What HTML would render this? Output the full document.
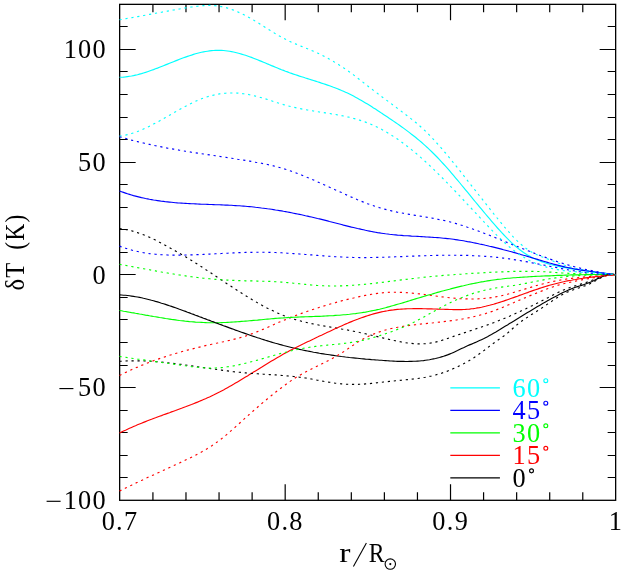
<!DOCTYPE html>
<html><head><meta charset="utf-8"><title>plot</title>
<style>
html,body{margin:0;padding:0;background:#fff;}
svg{display:block;will-change:transform;opacity:0.9999;}
.t{font-family:"Liberation Serif",serif;font-size:26.3px;letter-spacing:1.3px;}
</style></head>
<body>
<svg width="621" height="571" viewBox="0 0 621 571">
<rect width="621" height="571" fill="#fff"/>
<rect x="119.65" y="4.35" width="496.0" height="495.95" fill="none" stroke="#000" stroke-width="1.3"/>
<path d="M152.92 500.3 v-8 M152.92 4.35 v8 M185.98 500.3 v-8 M185.98 4.35 v8 M219.05 500.3 v-8 M219.05 4.35 v8 M252.12 500.3 v-8 M252.12 4.35 v8 M285.18 500.3 v-16 M285.18 4.35 v16 M318.25 500.3 v-8 M318.25 4.35 v8 M351.32 500.3 v-8 M351.32 4.35 v8 M384.38 500.3 v-8 M384.38 4.35 v8 M417.45 500.3 v-8 M417.45 4.35 v8 M450.52 500.3 v-16 M450.52 4.35 v16 M483.58 500.3 v-8 M483.58 4.35 v8 M516.65 500.3 v-8 M516.65 4.35 v8 M549.72 500.3 v-8 M549.72 4.35 v8 M582.78 500.3 v-8 M582.78 4.35 v8 M119.65 477.50 h8 M615.65 477.50 h-8 M119.65 455.50 h8 M615.65 455.50 h-8 M119.65 432.50 h8 M615.65 432.50 h-8 M119.65 410.50 h8 M615.65 410.50 h-8 M119.65 387.50 h16 M615.65 387.50 h-16 M119.65 365.50 h8 M615.65 365.50 h-8 M119.65 342.50 h8 M615.65 342.50 h-8 M119.65 319.50 h8 M615.65 319.50 h-8 M119.65 297.50 h8 M615.65 297.50 h-8 M119.65 274.50 h16 M615.65 274.50 h-16 M119.65 252.50 h8 M615.65 252.50 h-8 M119.65 229.50 h8 M615.65 229.50 h-8 M119.65 207.50 h8 M615.65 207.50 h-8 M119.65 184.50 h8 M615.65 184.50 h-8 M119.65 162.50 h16 M615.65 162.50 h-16 M119.65 139.50 h8 M615.65 139.50 h-8 M119.65 117.50 h8 M615.65 117.50 h-8 M119.65 94.50 h8 M615.65 94.50 h-8 M119.65 71.50 h8 M615.65 71.50 h-8 M119.65 49.50 h16 M615.65 49.50 h-16 M119.65 26.50 h8 M615.65 26.50 h-8" fill="none" stroke="#000" stroke-width="1.2"/>
<text x="107" y="58.34" text-anchor="end" class="t">100</text>
<text x="107" y="171.05" text-anchor="end" class="t">50</text>
<text x="107" y="283.77" text-anchor="end" class="t">0</text>
<text x="107" y="396.48" text-anchor="end" class="t">50</text>
<path d="M59.4 388.58 h14" stroke="#000" stroke-width="1.15" fill="none"/>
<text x="107" y="509.20" text-anchor="end" class="t">100</text>
<path d="M46.6 501.30 h14" stroke="#000" stroke-width="1.15" fill="none"/>
<text x="120.05" y="530" text-anchor="middle" class="t">0.7</text>
<text x="285.38" y="530" text-anchor="middle" class="t">0.8</text>
<text x="450.72" y="530" text-anchor="middle" class="t">0.9</text>
<text x="616.05" y="530" text-anchor="middle" class="t">1</text>
<text transform="translate(23.5 290.6) rotate(-90) scale(0.935 1)" class="t">δT</text><text transform="translate(23.5 249.8) rotate(-90) scale(0.9 1)" class="t">(K)</text>
<text transform="translate(339.3 562.2) scale(1.28 1)" class="t">r</text><path d="M353.4 566.6 L366.4 543" stroke="#000" stroke-width="1.1" fill="none"/><text transform="translate(368.8 562.2) scale(0.9 1)" class="t">R</text><circle cx="390.3" cy="564.1" r="5.2" fill="none" stroke="#000" stroke-width="1.1"/><circle cx="390.3" cy="564.1" r="1.1" fill="#000"/>
<path d="M450.32 387.78 H499.92" stroke="#00ffff" stroke-width="1.2" fill="none"/>
<text x="512.6" y="396.68" class="t" fill="#00ffff">60</text>
<circle cx="545.80" cy="380.68" r="1.95" fill="none" stroke="#00ffff" stroke-width="1.15"/>
<path d="M450.32 410.33 H499.92" stroke="#0000ff" stroke-width="1.2" fill="none"/>
<text x="512.6" y="419.23" class="t" fill="#0000ff">45</text>
<circle cx="545.80" cy="403.23" r="1.95" fill="none" stroke="#0000ff" stroke-width="1.15"/>
<path d="M450.32 432.87 H499.92" stroke="#00ff00" stroke-width="1.2" fill="none"/>
<text x="512.6" y="441.77" class="t" fill="#00ff00">30</text>
<circle cx="545.80" cy="425.77" r="1.95" fill="none" stroke="#00ff00" stroke-width="1.15"/>
<path d="M450.32 455.41 H499.92" stroke="#ff0000" stroke-width="1.2" fill="none"/>
<text x="512.6" y="464.31" class="t" fill="#ff0000">15</text>
<circle cx="545.80" cy="448.31" r="1.95" fill="none" stroke="#ff0000" stroke-width="1.15"/>
<path d="M450.32 477.96 H499.92" stroke="#000000" stroke-width="1.2" fill="none"/>
<text x="512.6" y="486.86" class="t" fill="#000000">0</text>
<circle cx="531.50" cy="470.86" r="1.95" fill="none" stroke="#000000" stroke-width="1.15"/>
<path d="M119.5 228.6 L121.5 228.8 L123.5 229.1 L125.5 229.5 L127.5 229.9 L129.5 230.3 L131.5 230.8 L133.5 231.4 L135.5 232.0 L137.5 232.6 L139.5 233.3 L141.5 234.0 L143.5 234.8 L145.5 235.6 L147.5 236.4 L149.5 237.3 L151.5 238.2 L153.5 239.2 L155.5 240.1 L157.5 241.1 L159.5 242.2 L161.5 243.2 L163.5 244.3 L165.5 245.4 L167.5 246.5 L169.5 247.6 L171.5 248.7 L173.5 249.9 L175.5 251.0 L177.5 252.2 L179.5 253.3 L181.5 254.4 L183.5 255.6 L185.5 256.8 L187.5 258.0 L189.5 259.2 L191.5 260.4 L193.5 261.7 L195.5 262.9 L197.5 264.2 L199.5 265.5 L201.5 266.8 L203.5 268.1 L205.5 269.4 L207.5 270.7 L209.5 272.0 L211.5 273.3 L213.5 274.7 L215.5 276.0 L217.5 277.3 L219.5 278.7 L221.5 280.0 L223.5 281.3 L225.5 282.7 L227.5 284.0 L229.5 285.3 L231.5 286.6 L233.5 287.9 L235.5 289.2 L237.5 290.5 L239.5 291.8 L241.5 293.1 L243.5 294.4 L245.5 295.6 L247.5 296.8 L249.5 298.1 L251.5 299.3 L253.5 300.5 L255.5 301.6 L257.5 302.8 L259.5 303.9 L261.5 305.0 L263.5 306.1 L265.5 307.1 L267.5 308.2 L269.5 309.2 L271.5 310.2 L273.5 311.1 L275.5 312.1 L277.5 313.0 L279.5 313.8 L281.5 314.7 L283.5 315.5 L285.5 316.2 L287.5 317.0 L289.5 317.7 L291.5 318.3 L293.5 319.0 L295.5 319.6 L297.5 320.2 L299.5 320.7 L301.5 321.3 L303.5 321.8 L305.5 322.2 L307.5 322.7 L309.5 323.2 L311.5 323.6 L313.5 324.0 L315.5 324.4 L317.5 324.8 L319.5 325.2 L321.5 325.5 L323.5 325.9 L325.5 326.3 L327.5 326.6 L329.5 326.9 L331.5 327.3 L333.5 327.6 L335.5 327.9 L337.5 328.3 L339.5 328.6 L341.5 329.0 L343.5 329.3 L345.5 329.7 L347.5 330.0 L349.5 330.4 L351.5 330.8 L353.5 331.2 L355.5 331.6 L357.5 332.0 L359.5 332.5 L361.5 332.9 L363.5 333.4 L365.5 333.8 L367.5 334.3 L369.5 334.7 L371.5 335.2 L373.5 335.7 L375.5 336.2 L377.5 336.6 L379.5 337.1 L381.5 337.6 L383.5 338.1 L385.5 338.6 L387.5 339.0 L389.5 339.5 L391.5 340.0 L393.5 340.4 L395.5 340.8 L397.5 341.2 L399.5 341.6 L401.5 342.0 L403.5 342.4 L405.5 342.7 L407.5 343.0 L409.5 343.2 L411.5 343.4 L413.5 343.6 L415.5 343.7 L417.5 343.8 L419.5 343.9 L421.5 343.8 L423.5 343.8 L425.5 343.7 L427.5 343.5 L429.5 343.2 L431.5 342.9 L433.5 342.6 L435.5 342.1 L437.5 341.6 L439.5 341.1 L441.5 340.5 L443.5 339.8 L445.5 339.2 L447.5 338.5 L449.5 337.8 L451.5 337.1 L453.5 336.4 L455.5 335.7 L457.5 335.0 L459.5 334.4 L461.5 333.7 L463.5 333.0 L465.5 332.4 L467.5 331.7 L469.5 331.0 L471.5 330.4 L473.5 329.7 L475.5 329.0 L477.5 328.3 L479.5 327.7 L481.5 327.0 L483.5 326.3 L485.5 325.6 L487.5 324.9 L489.5 324.1 L491.5 323.4 L493.5 322.7 L495.5 321.9 L497.5 321.1 L499.5 320.3 L501.5 319.5 L503.5 318.7 L505.5 317.9 L507.5 317.0 L509.5 316.2 L511.5 315.3 L513.5 314.4 L515.5 313.5 L517.5 312.6 L519.5 311.7 L521.5 310.8 L523.5 309.8 L525.5 308.9 L527.5 307.9 L529.5 306.9 L531.5 306.0 L533.5 305.0 L535.5 304.0 L537.5 303.0 L539.5 302.0 L541.5 301.0 L543.5 299.9 L545.5 298.9 L547.5 297.9 L549.5 296.9 L551.5 295.8 L553.5 294.8 L555.5 293.8 L557.5 292.8 L559.5 291.8 L561.5 290.9 L563.5 290.0 L565.5 289.2 L567.5 288.4 L569.5 287.7 L571.5 287.0 L573.5 286.4 L575.5 285.7 L577.5 285.1 L579.5 284.5 L581.5 283.9 L583.5 283.3 L585.5 282.7 L587.5 282.0 L589.5 281.3 L591.5 280.5 L593.5 279.7 L595.5 278.9 L597.5 278.1 L599.5 277.3 L601.5 276.5 L603.5 275.8 L605.5 275.3 L607.5 274.8 L609.5 274.5 L611.5 274.3 L613.5 274.4 L615.6 274.7" fill="none" stroke="#000000" stroke-width="1.15" stroke-dasharray="2.2 3.8"/>
<path d="M119.5 375.5 L121.5 374.5 L123.5 373.5 L125.5 372.5 L127.5 371.6 L129.5 370.6 L131.5 369.7 L133.5 368.8 L135.5 367.9 L137.5 367.1 L139.5 366.2 L141.5 365.4 L143.5 364.6 L145.5 363.8 L147.5 363.0 L149.5 362.2 L151.5 361.5 L153.5 360.7 L155.5 360.0 L157.5 359.3 L159.5 358.6 L161.5 357.9 L163.5 357.3 L165.5 356.6 L167.5 356.0 L169.5 355.3 L171.5 354.7 L173.5 354.1 L175.5 353.5 L177.5 352.9 L179.5 352.3 L181.5 351.8 L183.5 351.2 L185.5 350.7 L187.5 350.1 L189.5 349.6 L191.5 349.1 L193.5 348.6 L195.5 348.1 L197.5 347.6 L199.5 347.1 L201.5 346.6 L203.5 346.1 L205.5 345.6 L207.5 345.2 L209.5 344.7 L211.5 344.3 L213.5 343.8 L215.5 343.4 L217.5 343.0 L219.5 342.5 L221.5 342.1 L223.5 341.7 L225.5 341.2 L227.5 340.8 L229.5 340.4 L231.5 339.9 L233.5 339.4 L235.5 338.9 L237.5 338.4 L239.5 337.9 L241.5 337.3 L243.5 336.7 L245.5 336.1 L247.5 335.4 L249.5 334.7 L251.5 333.9 L253.5 333.2 L255.5 332.4 L257.5 331.6 L259.5 330.8 L261.5 329.9 L263.5 329.1 L265.5 328.2 L267.5 327.4 L269.5 326.5 L271.5 325.6 L273.5 324.7 L275.5 323.8 L277.5 323.0 L279.5 322.1 L281.5 321.2 L283.5 320.4 L285.5 319.6 L287.5 318.7 L289.5 317.9 L291.5 317.1 L293.5 316.4 L295.5 315.6 L297.5 314.9 L299.5 314.1 L301.5 313.4 L303.5 312.7 L305.5 312.0 L307.5 311.3 L309.5 310.6 L311.5 309.9 L313.5 309.3 L315.5 308.6 L317.5 308.0 L319.5 307.3 L321.5 306.7 L323.5 306.1 L325.5 305.5 L327.5 304.9 L329.5 304.3 L331.5 303.7 L333.5 303.1 L335.5 302.6 L337.5 302.0 L339.5 301.5 L341.5 300.9 L343.5 300.4 L345.5 299.9 L347.5 299.4 L349.5 298.9 L351.5 298.4 L353.5 298.0 L355.5 297.5 L357.5 297.1 L359.5 296.6 L361.5 296.2 L363.5 295.8 L365.5 295.4 L367.5 295.0 L369.5 294.7 L371.5 294.3 L373.5 294.0 L375.5 293.7 L377.5 293.4 L379.5 293.1 L381.5 292.9 L383.5 292.7 L385.5 292.5 L387.5 292.4 L389.5 292.3 L391.5 292.2 L393.5 292.2 L395.5 292.2 L397.5 292.2 L399.5 292.3 L401.5 292.4 L403.5 292.5 L405.5 292.6 L407.5 292.7 L409.5 292.9 L411.5 293.1 L413.5 293.3 L415.5 293.5 L417.5 293.7 L419.5 293.9 L421.5 294.2 L423.5 294.4 L425.5 294.7 L427.5 295.0 L429.5 295.2 L431.5 295.5 L433.5 295.8 L435.5 296.0 L437.5 296.3 L439.5 296.5 L441.5 296.8 L443.5 297.0 L445.5 297.3 L447.5 297.5 L449.5 297.7 L451.5 297.9 L453.5 298.1 L455.5 298.3 L457.5 298.4 L459.5 298.6 L461.5 298.7 L463.5 298.8 L465.5 298.9 L467.5 298.9 L469.5 299.0 L471.5 299.0 L473.5 299.0 L475.5 298.9 L477.5 298.9 L479.5 298.8 L481.5 298.6 L483.5 298.5 L485.5 298.3 L487.5 298.1 L489.5 297.9 L491.5 297.6 L493.5 297.3 L495.5 296.9 L497.5 296.5 L499.5 296.1 L501.5 295.7 L503.5 295.2 L505.5 294.7 L507.5 294.2 L509.5 293.6 L511.5 293.1 L513.5 292.5 L515.5 291.9 L517.5 291.3 L519.5 290.7 L521.5 290.1 L523.5 289.5 L525.5 288.9 L527.5 288.3 L529.5 287.7 L531.5 287.1 L533.5 286.5 L535.5 285.9 L537.5 285.3 L539.5 284.8 L541.5 284.3 L543.5 283.8 L545.5 283.3 L547.5 282.8 L549.5 282.3 L551.5 281.9 L553.5 281.4 L555.5 281.0 L557.5 280.6 L559.5 280.2 L561.5 279.9 L563.5 279.6 L565.5 279.2 L567.5 278.9 L569.5 278.6 L571.5 278.4 L573.5 278.1 L575.5 277.9 L577.5 277.7 L579.5 277.5 L581.5 277.3 L583.5 277.1 L585.5 276.9 L587.5 276.7 L589.5 276.6 L591.5 276.4 L593.5 276.3 L595.5 276.1 L597.5 276.0 L599.5 275.8 L601.5 275.7 L603.5 275.6 L605.5 275.4 L607.5 275.3 L609.5 275.2 L611.5 275.0 L613.5 274.9 L615.6 274.7" fill="none" stroke="#ff0000" stroke-width="1.15" stroke-dasharray="2.2 3.8"/>
<path d="M119.5 264.3 L121.5 264.7 L123.5 265.0 L125.5 265.4 L127.5 265.8 L129.5 266.1 L131.5 266.5 L133.5 266.9 L135.5 267.2 L137.5 267.6 L139.5 268.0 L141.5 268.4 L143.5 268.7 L145.5 269.1 L147.5 269.5 L149.5 269.8 L151.5 270.2 L153.5 270.6 L155.5 270.9 L157.5 271.3 L159.5 271.6 L161.5 272.0 L163.5 272.3 L165.5 272.7 L167.5 273.0 L169.5 273.4 L171.5 273.7 L173.5 274.0 L175.5 274.4 L177.5 274.7 L179.5 275.0 L181.5 275.3 L183.5 275.6 L185.5 275.9 L187.5 276.2 L189.5 276.5 L191.5 276.7 L193.5 277.0 L195.5 277.3 L197.5 277.5 L199.5 277.8 L201.5 278.0 L203.5 278.2 L205.5 278.4 L207.5 278.6 L209.5 278.8 L211.5 279.0 L213.5 279.2 L215.5 279.4 L217.5 279.5 L219.5 279.7 L221.5 279.8 L223.5 279.9 L225.5 280.0 L227.5 280.1 L229.5 280.2 L231.5 280.3 L233.5 280.4 L235.5 280.5 L237.5 280.6 L239.5 280.6 L241.5 280.7 L243.5 280.7 L245.5 280.8 L247.5 280.8 L249.5 280.9 L251.5 280.9 L253.5 281.0 L255.5 281.0 L257.5 281.1 L259.5 281.1 L261.5 281.2 L263.5 281.2 L265.5 281.3 L267.5 281.3 L269.5 281.4 L271.5 281.5 L273.5 281.6 L275.5 281.7 L277.5 281.8 L279.5 281.9 L281.5 282.1 L283.5 282.2 L285.5 282.4 L287.5 282.6 L289.5 282.7 L291.5 282.9 L293.5 283.2 L295.5 283.4 L297.5 283.6 L299.5 283.8 L301.5 284.0 L303.5 284.2 L305.5 284.4 L307.5 284.7 L309.5 284.8 L311.5 285.0 L313.5 285.2 L315.5 285.4 L317.5 285.5 L319.5 285.6 L321.5 285.7 L323.5 285.8 L325.5 285.9 L327.5 285.9 L329.5 286.0 L331.5 286.0 L333.5 286.0 L335.5 286.0 L337.5 285.9 L339.5 285.9 L341.5 285.8 L343.5 285.8 L345.5 285.7 L347.5 285.6 L349.5 285.5 L351.5 285.3 L353.5 285.2 L355.5 285.1 L357.5 284.9 L359.5 284.7 L361.5 284.6 L363.5 284.4 L365.5 284.2 L367.5 284.0 L369.5 283.8 L371.5 283.6 L373.5 283.4 L375.5 283.1 L377.5 282.9 L379.5 282.7 L381.5 282.4 L383.5 282.2 L385.5 281.9 L387.5 281.7 L389.5 281.4 L391.5 281.2 L393.5 280.9 L395.5 280.7 L397.5 280.4 L399.5 280.2 L401.5 279.9 L403.5 279.7 L405.5 279.4 L407.5 279.2 L409.5 278.9 L411.5 278.7 L413.5 278.5 L415.5 278.2 L417.5 278.0 L419.5 277.8 L421.5 277.5 L423.5 277.3 L425.5 277.1 L427.5 276.9 L429.5 276.7 L431.5 276.5 L433.5 276.3 L435.5 276.1 L437.5 276.0 L439.5 275.8 L441.5 275.6 L443.5 275.4 L445.5 275.3 L447.5 275.1 L449.5 275.0 L451.5 274.8 L453.5 274.7 L455.5 274.5 L457.5 274.4 L459.5 274.2 L461.5 274.1 L463.5 273.9 L465.5 273.8 L467.5 273.7 L469.5 273.6 L471.5 273.4 L473.5 273.3 L475.5 273.2 L477.5 273.1 L479.5 273.0 L481.5 272.9 L483.5 272.8 L485.5 272.6 L487.5 272.5 L489.5 272.4 L491.5 272.3 L493.5 272.2 L495.5 272.1 L497.5 272.0 L499.5 272.0 L501.5 271.9 L503.5 271.8 L505.5 271.7 L507.5 271.6 L509.5 271.6 L511.5 271.5 L513.5 271.4 L515.5 271.4 L517.5 271.3 L519.5 271.3 L521.5 271.3 L523.5 271.3 L525.5 271.3 L527.5 271.3 L529.5 271.3 L531.5 271.3 L533.5 271.3 L535.5 271.4 L537.5 271.5 L539.5 271.5 L541.5 271.6 L543.5 271.7 L545.5 271.8 L547.5 272.0 L549.5 272.1 L551.5 272.2 L553.5 272.3 L555.5 272.5 L557.5 272.6 L559.5 272.7 L561.5 272.9 L563.5 273.0 L565.5 273.1 L567.5 273.2 L569.5 273.4 L571.5 273.5 L573.5 273.6 L575.5 273.7 L577.5 273.8 L579.5 273.9 L581.5 273.9 L583.5 274.0 L585.5 274.1 L587.5 274.1 L589.5 274.2 L591.5 274.2 L593.5 274.3 L595.5 274.3 L597.5 274.3 L599.5 274.3 L601.5 274.4 L603.5 274.4 L605.5 274.4 L607.5 274.5 L609.5 274.5 L611.5 274.6 L613.5 274.6 L615.6 274.7" fill="none" stroke="#00ff00" stroke-width="1.15" stroke-dasharray="2.2 3.8"/>
<path d="M119.5 136.7 L121.5 137.3 L123.5 137.9 L125.5 138.4 L127.5 139.0 L129.5 139.5 L131.5 140.1 L133.5 140.6 L135.5 141.1 L137.5 141.6 L139.5 142.1 L141.5 142.6 L143.5 143.0 L145.5 143.5 L147.5 144.0 L149.5 144.4 L151.5 144.8 L153.5 145.3 L155.5 145.7 L157.5 146.1 L159.5 146.5 L161.5 146.9 L163.5 147.3 L165.5 147.7 L167.5 148.1 L169.5 148.4 L171.5 148.8 L173.5 149.1 L175.5 149.5 L177.5 149.8 L179.5 150.2 L181.5 150.5 L183.5 150.9 L185.5 151.2 L187.5 151.5 L189.5 151.8 L191.5 152.2 L193.5 152.5 L195.5 152.8 L197.5 153.1 L199.5 153.4 L201.5 153.7 L203.5 154.0 L205.5 154.3 L207.5 154.6 L209.5 154.9 L211.5 155.2 L213.5 155.5 L215.5 155.8 L217.5 156.1 L219.5 156.4 L221.5 156.7 L223.5 157.0 L225.5 157.3 L227.5 157.6 L229.5 157.9 L231.5 158.2 L233.5 158.5 L235.5 158.8 L237.5 159.2 L239.5 159.5 L241.5 159.8 L243.5 160.1 L245.5 160.4 L247.5 160.8 L249.5 161.1 L251.5 161.4 L253.5 161.8 L255.5 162.2 L257.5 162.5 L259.5 162.9 L261.5 163.3 L263.5 163.7 L265.5 164.1 L267.5 164.5 L269.5 165.0 L271.5 165.5 L273.5 165.9 L275.5 166.4 L277.5 167.0 L279.5 167.5 L281.5 168.1 L283.5 168.7 L285.5 169.3 L287.5 169.9 L289.5 170.6 L291.5 171.3 L293.5 172.0 L295.5 172.7 L297.5 173.5 L299.5 174.2 L301.5 175.0 L303.5 175.8 L305.5 176.6 L307.5 177.5 L309.5 178.3 L311.5 179.2 L313.5 180.0 L315.5 180.9 L317.5 181.8 L319.5 182.7 L321.5 183.6 L323.5 184.5 L325.5 185.4 L327.5 186.3 L329.5 187.2 L331.5 188.1 L333.5 189.0 L335.5 189.9 L337.5 190.8 L339.5 191.7 L341.5 192.6 L343.5 193.5 L345.5 194.4 L347.5 195.3 L349.5 196.2 L351.5 197.1 L353.5 197.9 L355.5 198.8 L357.5 199.7 L359.5 200.5 L361.5 201.3 L363.5 202.1 L365.5 202.9 L367.5 203.7 L369.5 204.4 L371.5 205.1 L373.5 205.8 L375.5 206.5 L377.5 207.1 L379.5 207.7 L381.5 208.3 L383.5 208.9 L385.5 209.4 L387.5 209.9 L389.5 210.4 L391.5 210.9 L393.5 211.4 L395.5 211.8 L397.5 212.2 L399.5 212.6 L401.5 213.0 L403.5 213.3 L405.5 213.7 L407.5 214.1 L409.5 214.4 L411.5 214.7 L413.5 215.1 L415.5 215.4 L417.5 215.7 L419.5 216.0 L421.5 216.4 L423.5 216.7 L425.5 217.0 L427.5 217.4 L429.5 217.7 L431.5 218.0 L433.5 218.4 L435.5 218.8 L437.5 219.2 L439.5 219.6 L441.5 220.0 L443.5 220.4 L445.5 220.8 L447.5 221.3 L449.5 221.8 L451.5 222.3 L453.5 222.8 L455.5 223.4 L457.5 224.0 L459.5 224.6 L461.5 225.2 L463.5 225.8 L465.5 226.5 L467.5 227.2 L469.5 227.8 L471.5 228.5 L473.5 229.3 L475.5 230.0 L477.5 230.7 L479.5 231.5 L481.5 232.2 L483.5 233.0 L485.5 233.8 L487.5 234.6 L489.5 235.3 L491.5 236.1 L493.5 236.9 L495.5 237.7 L497.5 238.6 L499.5 239.4 L501.5 240.2 L503.5 241.0 L505.5 241.8 L507.5 242.6 L509.5 243.4 L511.5 244.2 L513.5 245.0 L515.5 245.8 L517.5 246.6 L519.5 247.4 L521.5 248.2 L523.5 249.0 L525.5 249.8 L527.5 250.6 L529.5 251.3 L531.5 252.1 L533.5 252.9 L535.5 253.7 L537.5 254.4 L539.5 255.2 L541.5 255.9 L543.5 256.7 L545.5 257.4 L547.5 258.2 L549.5 258.9 L551.5 259.6 L553.5 260.3 L555.5 261.0 L557.5 261.7 L559.5 262.4 L561.5 263.0 L563.5 263.6 L565.5 264.2 L567.5 264.8 L569.5 265.4 L571.5 266.0 L573.5 266.5 L575.5 267.0 L577.5 267.5 L579.5 268.0 L581.5 268.5 L583.5 268.9 L585.5 269.4 L587.5 269.8 L589.5 270.2 L591.5 270.6 L593.5 271.0 L595.5 271.4 L597.5 271.7 L599.5 272.1 L601.5 272.4 L603.5 272.8 L605.5 273.1 L607.5 273.4 L609.5 273.8 L611.5 274.1 L613.5 274.4 L615.6 274.7" fill="none" stroke="#0000ff" stroke-width="1.15" stroke-dasharray="2.2 3.8"/>
<path d="M119.5 19.8 L121.5 19.5 L123.5 19.1 L125.5 18.8 L127.5 18.4 L129.5 18.1 L131.5 17.7 L133.5 17.4 L135.5 17.0 L137.5 16.6 L139.5 16.3 L141.5 15.9 L143.5 15.5 L145.5 15.2 L147.5 14.8 L149.5 14.4 L151.5 14.1 L153.5 13.7 L155.5 13.3 L157.5 12.9 L159.5 12.6 L161.5 12.2 L163.5 11.8 L165.5 11.5 L167.5 11.1 L169.5 10.7 L171.5 10.4 L173.5 10.0 L175.5 9.7 L177.5 9.3 L179.5 9.0 L181.5 8.6 L183.5 8.3 L185.5 7.9 L187.5 7.6 L189.5 7.3 L191.5 7.0 L193.5 6.7 L195.5 6.4 L197.5 6.2 L199.5 6.0 L201.5 5.8 L203.5 5.6 L205.5 5.5 L207.5 5.5 L209.5 5.4 L211.5 5.5 L213.5 5.6 L215.5 5.7 L217.5 6.0 L219.5 6.2 L221.5 6.6 L223.5 7.0 L225.5 7.5 L227.5 8.1 L229.5 8.7 L231.5 9.4 L233.5 10.1 L235.5 10.9 L237.5 11.8 L239.5 12.7 L241.5 13.6 L243.5 14.6 L245.5 15.6 L247.5 16.7 L249.5 17.8 L251.5 18.9 L253.5 20.1 L255.5 21.3 L257.5 22.5 L259.5 23.7 L261.5 25.0 L263.5 26.3 L265.5 27.5 L267.5 28.8 L269.5 30.0 L271.5 31.3 L273.5 32.5 L275.5 33.7 L277.5 34.9 L279.5 36.1 L281.5 37.2 L283.5 38.3 L285.5 39.3 L287.5 40.3 L289.5 41.3 L291.5 42.2 L293.5 43.1 L295.5 43.9 L297.5 44.8 L299.5 45.6 L301.5 46.4 L303.5 47.2 L305.5 48.0 L307.5 48.8 L309.5 49.6 L311.5 50.4 L313.5 51.3 L315.5 52.2 L317.5 53.1 L319.5 54.0 L321.5 55.0 L323.5 56.0 L325.5 57.0 L327.5 58.1 L329.5 59.2 L331.5 60.3 L333.5 61.5 L335.5 62.7 L337.5 63.9 L339.5 65.2 L341.5 66.5 L343.5 67.8 L345.5 69.2 L347.5 70.6 L349.5 72.0 L351.5 73.5 L353.5 74.9 L355.5 76.5 L357.5 78.0 L359.5 79.5 L361.5 81.1 L363.5 82.6 L365.5 84.2 L367.5 85.8 L369.5 87.3 L371.5 88.9 L373.5 90.4 L375.5 91.9 L377.5 93.4 L379.5 95.0 L381.5 96.5 L383.5 98.0 L385.5 99.5 L387.5 100.9 L389.5 102.4 L391.5 103.9 L393.5 105.4 L395.5 106.9 L397.5 108.4 L399.5 109.9 L401.5 111.4 L403.5 112.9 L405.5 114.4 L407.5 116.0 L409.5 117.5 L411.5 119.1 L413.5 120.7 L415.5 122.3 L417.5 124.0 L419.5 125.7 L421.5 127.5 L423.5 129.3 L425.5 131.2 L427.5 133.2 L429.5 135.2 L431.5 137.3 L433.5 139.4 L435.5 141.6 L437.5 143.8 L439.5 146.0 L441.5 148.3 L443.5 150.7 L445.5 153.0 L447.5 155.4 L449.5 157.9 L451.5 160.3 L453.5 162.8 L455.5 165.3 L457.5 167.8 L459.5 170.3 L461.5 172.8 L463.5 175.4 L465.5 177.9 L467.5 180.5 L469.5 183.0 L471.5 185.6 L473.5 188.1 L475.5 190.7 L477.5 193.2 L479.5 195.8 L481.5 198.3 L483.5 200.9 L485.5 203.4 L487.5 205.9 L489.5 208.4 L491.5 211.0 L493.5 213.5 L495.5 216.0 L497.5 218.5 L499.5 220.9 L501.5 223.4 L503.5 225.8 L505.5 228.1 L507.5 230.5 L509.5 232.7 L511.5 234.9 L513.5 237.1 L515.5 239.1 L517.5 241.1 L519.5 243.0 L521.5 244.7 L523.5 246.4 L525.5 248.0 L527.5 249.4 L529.5 250.8 L531.5 252.0 L533.5 253.1 L535.5 254.1 L537.5 255.0 L539.5 255.8 L541.5 256.7 L543.5 257.4 L545.5 258.2 L547.5 258.9 L549.5 259.7 L551.5 260.5 L553.5 261.2 L555.5 262.0 L557.5 262.8 L559.5 263.5 L561.5 264.2 L563.5 264.9 L565.5 265.5 L567.5 266.1 L569.5 266.7 L571.5 267.2 L573.5 267.7 L575.5 268.2 L577.5 268.6 L579.5 269.1 L581.5 269.5 L583.5 269.9 L585.5 270.2 L587.5 270.6 L589.5 270.9 L591.5 271.3 L593.5 271.6 L595.5 271.9 L597.5 272.2 L599.5 272.5 L601.5 272.7 L603.5 273.0 L605.5 273.3 L607.5 273.6 L609.5 273.8 L611.5 274.1 L613.5 274.4 L615.6 274.7" fill="none" stroke="#00ffff" stroke-width="1.15" stroke-dasharray="2.2 3.8"/>
<path d="M119.5 77.3 L121.5 77.2 L123.5 77.1 L125.5 76.9 L127.5 76.6 L129.5 76.3 L131.5 76.0 L133.5 75.6 L135.5 75.1 L137.5 74.7 L139.5 74.1 L141.5 73.6 L143.5 73.0 L145.5 72.4 L147.5 71.7 L149.5 71.0 L151.5 70.3 L153.5 69.6 L155.5 68.8 L157.5 68.1 L159.5 67.3 L161.5 66.5 L163.5 65.7 L165.5 64.9 L167.5 64.1 L169.5 63.3 L171.5 62.5 L173.5 61.7 L175.5 60.9 L177.5 60.1 L179.5 59.3 L181.5 58.5 L183.5 57.8 L185.5 57.1 L187.5 56.4 L189.5 55.7 L191.5 55.1 L193.5 54.4 L195.5 53.8 L197.5 53.3 L199.5 52.8 L201.5 52.3 L203.5 51.9 L205.5 51.5 L207.5 51.2 L209.5 50.9 L211.5 50.6 L213.5 50.5 L215.5 50.4 L217.5 50.3 L219.5 50.3 L221.5 50.4 L223.5 50.5 L225.5 50.7 L227.5 51.0 L229.5 51.3 L231.5 51.6 L233.5 52.0 L235.5 52.5 L237.5 53.0 L239.5 53.5 L241.5 54.1 L243.5 54.7 L245.5 55.3 L247.5 56.0 L249.5 56.7 L251.5 57.4 L253.5 58.2 L255.5 59.0 L257.5 59.8 L259.5 60.6 L261.5 61.4 L263.5 62.2 L265.5 63.0 L267.5 63.9 L269.5 64.7 L271.5 65.6 L273.5 66.4 L275.5 67.2 L277.5 68.0 L279.5 68.9 L281.5 69.7 L283.5 70.4 L285.5 71.2 L287.5 71.9 L289.5 72.7 L291.5 73.4 L293.5 74.1 L295.5 74.7 L297.5 75.4 L299.5 76.1 L301.5 76.7 L303.5 77.3 L305.5 78.0 L307.5 78.6 L309.5 79.2 L311.5 79.9 L313.5 80.5 L315.5 81.1 L317.5 81.8 L319.5 82.4 L321.5 83.1 L323.5 83.7 L325.5 84.4 L327.5 85.1 L329.5 85.8 L331.5 86.5 L333.5 87.3 L335.5 88.0 L337.5 88.8 L339.5 89.6 L341.5 90.5 L343.5 91.3 L345.5 92.2 L347.5 93.1 L349.5 94.1 L351.5 95.1 L353.5 96.1 L355.5 97.2 L357.5 98.3 L359.5 99.4 L361.5 100.5 L363.5 101.7 L365.5 102.9 L367.5 104.1 L369.5 105.3 L371.5 106.6 L373.5 107.9 L375.5 109.1 L377.5 110.4 L379.5 111.7 L381.5 113.1 L383.5 114.4 L385.5 115.7 L387.5 117.0 L389.5 118.4 L391.5 119.7 L393.5 121.1 L395.5 122.5 L397.5 123.9 L399.5 125.3 L401.5 126.7 L403.5 128.1 L405.5 129.6 L407.5 131.1 L409.5 132.6 L411.5 134.2 L413.5 135.7 L415.5 137.3 L417.5 139.0 L419.5 140.6 L421.5 142.3 L423.5 144.1 L425.5 145.9 L427.5 147.7 L429.5 149.6 L431.5 151.5 L433.5 153.5 L435.5 155.5 L437.5 157.5 L439.5 159.6 L441.5 161.8 L443.5 164.0 L445.5 166.2 L447.5 168.4 L449.5 170.7 L451.5 173.1 L453.5 175.4 L455.5 177.8 L457.5 180.1 L459.5 182.5 L461.5 185.0 L463.5 187.4 L465.5 189.8 L467.5 192.2 L469.5 194.7 L471.5 197.1 L473.5 199.6 L475.5 202.0 L477.5 204.4 L479.5 206.8 L481.5 209.2 L483.5 211.6 L485.5 214.0 L487.5 216.4 L489.5 218.7 L491.5 221.1 L493.5 223.4 L495.5 225.7 L497.5 228.0 L499.5 230.2 L501.5 232.4 L503.5 234.5 L505.5 236.6 L507.5 238.7 L509.5 240.7 L511.5 242.6 L513.5 244.4 L515.5 246.2 L517.5 247.9 L519.5 249.5 L521.5 251.0 L523.5 252.4 L525.5 253.7 L527.5 255.0 L529.5 256.1 L531.5 257.2 L533.5 258.2 L535.5 259.2 L537.5 260.0 L539.5 260.8 L541.5 261.6 L543.5 262.3 L545.5 263.0 L547.5 263.6 L549.5 264.2 L551.5 264.7 L553.5 265.2 L555.5 265.7 L557.5 266.1 L559.5 266.6 L561.5 267.0 L563.5 267.4 L565.5 267.8 L567.5 268.2 L569.5 268.5 L571.5 268.9 L573.5 269.2 L575.5 269.5 L577.5 269.8 L579.5 270.1 L581.5 270.4 L583.5 270.7 L585.5 271.0 L587.5 271.3 L589.5 271.5 L591.5 271.8 L593.5 272.1 L595.5 272.3 L597.5 272.6 L599.5 272.8 L601.5 273.0 L603.5 273.3 L605.5 273.5 L607.5 273.7 L609.5 274.0 L611.5 274.2 L613.5 274.4 L615.6 274.7" fill="none" stroke="#00ffff" stroke-width="1.15"/>
<path d="M119.5 191.0 L121.5 191.7 L123.5 192.4 L125.5 193.1 L127.5 193.8 L129.5 194.4 L131.5 195.0 L133.5 195.6 L135.5 196.1 L137.5 196.6 L139.5 197.1 L141.5 197.6 L143.5 198.0 L145.5 198.5 L147.5 198.9 L149.5 199.3 L151.5 199.6 L153.5 200.0 L155.5 200.3 L157.5 200.6 L159.5 200.9 L161.5 201.2 L163.5 201.4 L165.5 201.7 L167.5 201.9 L169.5 202.1 L171.5 202.3 L173.5 202.5 L175.5 202.7 L177.5 202.9 L179.5 203.0 L181.5 203.1 L183.5 203.3 L185.5 203.4 L187.5 203.5 L189.5 203.6 L191.5 203.7 L193.5 203.8 L195.5 203.9 L197.5 204.0 L199.5 204.1 L201.5 204.2 L203.5 204.2 L205.5 204.3 L207.5 204.4 L209.5 204.5 L211.5 204.5 L213.5 204.6 L215.5 204.7 L217.5 204.7 L219.5 204.8 L221.5 204.9 L223.5 205.0 L225.5 205.1 L227.5 205.1 L229.5 205.2 L231.5 205.3 L233.5 205.5 L235.5 205.6 L237.5 205.7 L239.5 205.8 L241.5 206.0 L243.5 206.1 L245.5 206.3 L247.5 206.5 L249.5 206.6 L251.5 206.8 L253.5 207.0 L255.5 207.3 L257.5 207.5 L259.5 207.7 L261.5 208.0 L263.5 208.2 L265.5 208.5 L267.5 208.8 L269.5 209.0 L271.5 209.3 L273.5 209.6 L275.5 210.0 L277.5 210.3 L279.5 210.6 L281.5 210.9 L283.5 211.3 L285.5 211.6 L287.5 212.0 L289.5 212.4 L291.5 212.8 L293.5 213.2 L295.5 213.6 L297.5 214.0 L299.5 214.4 L301.5 214.8 L303.5 215.2 L305.5 215.7 L307.5 216.1 L309.5 216.6 L311.5 217.0 L313.5 217.5 L315.5 218.0 L317.5 218.5 L319.5 218.9 L321.5 219.4 L323.5 219.9 L325.5 220.4 L327.5 220.9 L329.5 221.5 L331.5 222.0 L333.5 222.5 L335.5 223.0 L337.5 223.5 L339.5 224.0 L341.5 224.5 L343.5 225.1 L345.5 225.6 L347.5 226.1 L349.5 226.6 L351.5 227.1 L353.5 227.5 L355.5 228.0 L357.5 228.5 L359.5 228.9 L361.5 229.4 L363.5 229.8 L365.5 230.3 L367.5 230.7 L369.5 231.1 L371.5 231.5 L373.5 231.9 L375.5 232.2 L377.5 232.6 L379.5 232.9 L381.5 233.2 L383.5 233.5 L385.5 233.8 L387.5 234.0 L389.5 234.3 L391.5 234.5 L393.5 234.7 L395.5 234.9 L397.5 235.1 L399.5 235.2 L401.5 235.4 L403.5 235.6 L405.5 235.7 L407.5 235.8 L409.5 235.9 L411.5 236.1 L413.5 236.2 L415.5 236.3 L417.5 236.4 L419.5 236.5 L421.5 236.6 L423.5 236.7 L425.5 236.9 L427.5 237.0 L429.5 237.1 L431.5 237.2 L433.5 237.4 L435.5 237.5 L437.5 237.6 L439.5 237.8 L441.5 238.0 L443.5 238.2 L445.5 238.4 L447.5 238.6 L449.5 238.8 L451.5 239.0 L453.5 239.3 L455.5 239.6 L457.5 239.9 L459.5 240.2 L461.5 240.5 L463.5 240.8 L465.5 241.2 L467.5 241.6 L469.5 241.9 L471.5 242.3 L473.5 242.7 L475.5 243.1 L477.5 243.5 L479.5 244.0 L481.5 244.4 L483.5 244.8 L485.5 245.3 L487.5 245.7 L489.5 246.2 L491.5 246.6 L493.5 247.1 L495.5 247.6 L497.5 248.1 L499.5 248.6 L501.5 249.1 L503.5 249.7 L505.5 250.2 L507.5 250.7 L509.5 251.3 L511.5 251.8 L513.5 252.4 L515.5 252.9 L517.5 253.5 L519.5 254.1 L521.5 254.7 L523.5 255.3 L525.5 255.8 L527.5 256.4 L529.5 257.0 L531.5 257.6 L533.5 258.2 L535.5 258.8 L537.5 259.4 L539.5 260.0 L541.5 260.6 L543.5 261.2 L545.5 261.8 L547.5 262.4 L549.5 263.0 L551.5 263.5 L553.5 264.1 L555.5 264.6 L557.5 265.1 L559.5 265.6 L561.5 266.1 L563.5 266.6 L565.5 267.1 L567.5 267.5 L569.5 267.9 L571.5 268.3 L573.5 268.7 L575.5 269.1 L577.5 269.4 L579.5 269.8 L581.5 270.1 L583.5 270.4 L585.5 270.7 L587.5 271.0 L589.5 271.3 L591.5 271.6 L593.5 271.9 L595.5 272.1 L597.5 272.4 L599.5 272.7 L601.5 272.9 L603.5 273.2 L605.5 273.4 L607.5 273.7 L609.5 273.9 L611.5 274.2 L613.5 274.4 L615.6 274.7" fill="none" stroke="#0000ff" stroke-width="1.15"/>
<path d="M119.5 310.5 L121.5 310.8 L123.5 311.2 L125.5 311.5 L127.5 311.9 L129.5 312.2 L131.5 312.6 L133.5 312.9 L135.5 313.3 L137.5 313.6 L139.5 314.0 L141.5 314.3 L143.5 314.7 L145.5 315.1 L147.5 315.4 L149.5 315.8 L151.5 316.1 L153.5 316.5 L155.5 316.8 L157.5 317.1 L159.5 317.5 L161.5 317.8 L163.5 318.1 L165.5 318.5 L167.5 318.8 L169.5 319.1 L171.5 319.4 L173.5 319.6 L175.5 319.9 L177.5 320.2 L179.5 320.5 L181.5 320.7 L183.5 320.9 L185.5 321.2 L187.5 321.4 L189.5 321.6 L191.5 321.7 L193.5 321.9 L195.5 322.1 L197.5 322.2 L199.5 322.3 L201.5 322.4 L203.5 322.5 L205.5 322.6 L207.5 322.7 L209.5 322.7 L211.5 322.7 L213.5 322.7 L215.5 322.7 L217.5 322.7 L219.5 322.7 L221.5 322.6 L223.5 322.5 L225.5 322.5 L227.5 322.4 L229.5 322.3 L231.5 322.1 L233.5 322.0 L235.5 321.9 L237.5 321.8 L239.5 321.6 L241.5 321.4 L243.5 321.3 L245.5 321.1 L247.5 321.0 L249.5 320.8 L251.5 320.6 L253.5 320.4 L255.5 320.2 L257.5 320.1 L259.5 319.9 L261.5 319.7 L263.5 319.5 L265.5 319.3 L267.5 319.1 L269.5 319.0 L271.5 318.8 L273.5 318.6 L275.5 318.4 L277.5 318.3 L279.5 318.1 L281.5 318.0 L283.5 317.9 L285.5 317.7 L287.5 317.6 L289.5 317.5 L291.5 317.4 L293.5 317.3 L295.5 317.2 L297.5 317.1 L299.5 317.0 L301.5 316.9 L303.5 316.9 L305.5 316.8 L307.5 316.7 L309.5 316.6 L311.5 316.6 L313.5 316.5 L315.5 316.4 L317.5 316.3 L319.5 316.3 L321.5 316.2 L323.5 316.1 L325.5 316.0 L327.5 315.9 L329.5 315.8 L331.5 315.7 L333.5 315.6 L335.5 315.4 L337.5 315.3 L339.5 315.2 L341.5 315.0 L343.5 314.8 L345.5 314.7 L347.5 314.5 L349.5 314.3 L351.5 314.0 L353.5 313.8 L355.5 313.6 L357.5 313.3 L359.5 313.0 L361.5 312.7 L363.5 312.4 L365.5 312.1 L367.5 311.7 L369.5 311.3 L371.5 310.9 L373.5 310.5 L375.5 310.1 L377.5 309.6 L379.5 309.2 L381.5 308.7 L383.5 308.2 L385.5 307.7 L387.5 307.1 L389.5 306.6 L391.5 306.0 L393.5 305.5 L395.5 304.9 L397.5 304.3 L399.5 303.8 L401.5 303.2 L403.5 302.6 L405.5 302.0 L407.5 301.4 L409.5 300.8 L411.5 300.1 L413.5 299.5 L415.5 298.9 L417.5 298.3 L419.5 297.7 L421.5 297.1 L423.5 296.5 L425.5 295.9 L427.5 295.3 L429.5 294.7 L431.5 294.2 L433.5 293.6 L435.5 293.0 L437.5 292.4 L439.5 291.9 L441.5 291.3 L443.5 290.8 L445.5 290.2 L447.5 289.7 L449.5 289.2 L451.5 288.6 L453.5 288.1 L455.5 287.6 L457.5 287.1 L459.5 286.6 L461.5 286.1 L463.5 285.7 L465.5 285.2 L467.5 284.8 L469.5 284.3 L471.5 283.9 L473.5 283.5 L475.5 283.1 L477.5 282.7 L479.5 282.3 L481.5 281.9 L483.5 281.6 L485.5 281.2 L487.5 280.9 L489.5 280.6 L491.5 280.3 L493.5 280.0 L495.5 279.7 L497.5 279.4 L499.5 279.2 L501.5 279.0 L503.5 278.7 L505.5 278.5 L507.5 278.3 L509.5 278.2 L511.5 278.0 L513.5 277.8 L515.5 277.7 L517.5 277.5 L519.5 277.4 L521.5 277.2 L523.5 277.1 L525.5 277.0 L527.5 276.9 L529.5 276.7 L531.5 276.6 L533.5 276.5 L535.5 276.4 L537.5 276.3 L539.5 276.2 L541.5 276.1 L543.5 276.0 L545.5 275.9 L547.5 275.8 L549.5 275.8 L551.5 275.7 L553.5 275.6 L555.5 275.5 L557.5 275.4 L559.5 275.3 L561.5 275.3 L563.5 275.2 L565.5 275.1 L567.5 275.1 L569.5 275.0 L571.5 274.9 L573.5 274.9 L575.5 274.8 L577.5 274.8 L579.5 274.7 L581.5 274.7 L583.5 274.7 L585.5 274.6 L587.5 274.6 L589.5 274.6 L591.5 274.6 L593.5 274.5 L595.5 274.5 L597.5 274.5 L599.5 274.5 L601.5 274.5 L603.5 274.5 L605.5 274.5 L607.5 274.6 L609.5 274.6 L611.5 274.6 L613.5 274.7 L615.6 274.7" fill="none" stroke="#00ff00" stroke-width="1.15"/>
<path d="M119.5 294.9 L121.5 295.0 L123.5 295.2 L125.5 295.3 L127.5 295.5 L129.5 295.8 L131.5 296.1 L133.5 296.4 L135.5 296.7 L137.5 297.0 L139.5 297.4 L141.5 297.8 L143.5 298.3 L145.5 298.7 L147.5 299.2 L149.5 299.7 L151.5 300.3 L153.5 300.8 L155.5 301.4 L157.5 301.9 L159.5 302.5 L161.5 303.2 L163.5 303.8 L165.5 304.4 L167.5 305.1 L169.5 305.8 L171.5 306.4 L173.5 307.1 L175.5 307.8 L177.5 308.5 L179.5 309.3 L181.5 310.0 L183.5 310.7 L185.5 311.4 L187.5 312.2 L189.5 312.9 L191.5 313.7 L193.5 314.4 L195.5 315.2 L197.5 315.9 L199.5 316.7 L201.5 317.4 L203.5 318.2 L205.5 318.9 L207.5 319.7 L209.5 320.4 L211.5 321.2 L213.5 321.9 L215.5 322.7 L217.5 323.4 L219.5 324.2 L221.5 324.9 L223.5 325.7 L225.5 326.4 L227.5 327.1 L229.5 327.9 L231.5 328.6 L233.5 329.3 L235.5 330.1 L237.5 330.8 L239.5 331.5 L241.5 332.2 L243.5 332.9 L245.5 333.6 L247.5 334.3 L249.5 335.0 L251.5 335.7 L253.5 336.4 L255.5 337.0 L257.5 337.7 L259.5 338.3 L261.5 339.0 L263.5 339.6 L265.5 340.3 L267.5 340.9 L269.5 341.5 L271.5 342.1 L273.5 342.7 L275.5 343.3 L277.5 343.8 L279.5 344.4 L281.5 344.9 L283.5 345.5 L285.5 346.0 L287.5 346.5 L289.5 347.0 L291.5 347.5 L293.5 348.0 L295.5 348.5 L297.5 348.9 L299.5 349.4 L301.5 349.8 L303.5 350.2 L305.5 350.6 L307.5 351.0 L309.5 351.4 L311.5 351.8 L313.5 352.2 L315.5 352.5 L317.5 352.9 L319.5 353.3 L321.5 353.6 L323.5 353.9 L325.5 354.2 L327.5 354.5 L329.5 354.8 L331.5 355.1 L333.5 355.4 L335.5 355.7 L337.5 356.0 L339.5 356.2 L341.5 356.5 L343.5 356.7 L345.5 357.0 L347.5 357.2 L349.5 357.5 L351.5 357.7 L353.5 357.9 L355.5 358.1 L357.5 358.3 L359.5 358.5 L361.5 358.7 L363.5 358.9 L365.5 359.1 L367.5 359.2 L369.5 359.4 L371.5 359.6 L373.5 359.7 L375.5 359.9 L377.5 360.0 L379.5 360.2 L381.5 360.3 L383.5 360.5 L385.5 360.6 L387.5 360.7 L389.5 360.9 L391.5 361.0 L393.5 361.1 L395.5 361.2 L397.5 361.3 L399.5 361.3 L401.5 361.4 L403.5 361.4 L405.5 361.5 L407.5 361.5 L409.5 361.4 L411.5 361.4 L413.5 361.3 L415.5 361.2 L417.5 361.1 L419.5 361.0 L421.5 360.8 L423.5 360.6 L425.5 360.3 L427.5 360.0 L429.5 359.7 L431.5 359.3 L433.5 358.9 L435.5 358.5 L437.5 358.0 L439.5 357.5 L441.5 356.9 L443.5 356.3 L445.5 355.6 L447.5 354.9 L449.5 354.1 L451.5 353.3 L453.5 352.4 L455.5 351.5 L457.5 350.6 L459.5 349.6 L461.5 348.6 L463.5 347.7 L465.5 346.7 L467.5 345.8 L469.5 344.9 L471.5 344.1 L473.5 343.2 L475.5 342.4 L477.5 341.5 L479.5 340.6 L481.5 339.7 L483.5 338.8 L485.5 337.7 L487.5 336.7 L489.5 335.6 L491.5 334.5 L493.5 333.3 L495.5 332.2 L497.5 331.0 L499.5 329.8 L501.5 328.5 L503.5 327.3 L505.5 326.1 L507.5 324.9 L509.5 323.6 L511.5 322.4 L513.5 321.2 L515.5 319.9 L517.5 318.7 L519.5 317.5 L521.5 316.2 L523.5 315.0 L525.5 313.8 L527.5 312.6 L529.5 311.4 L531.5 310.2 L533.5 309.0 L535.5 307.8 L537.5 306.6 L539.5 305.4 L541.5 304.2 L543.5 303.1 L545.5 301.9 L547.5 300.8 L549.5 299.7 L551.5 298.6 L553.5 297.5 L555.5 296.4 L557.5 295.4 L559.5 294.3 L561.5 293.3 L563.5 292.3 L565.5 291.4 L567.5 290.5 L569.5 289.6 L571.5 288.8 L573.5 288.0 L575.5 287.3 L577.5 286.6 L579.5 286.0 L581.5 285.4 L583.5 284.7 L585.5 284.0 L587.5 283.3 L589.5 282.5 L591.5 281.7 L593.5 280.8 L595.5 279.8 L597.5 278.8 L599.5 277.9 L601.5 277.0 L603.5 276.1 L605.5 275.4 L607.5 274.9 L609.5 274.5 L611.5 274.3 L613.5 274.3 L615.6 274.7" fill="none" stroke="#000000" stroke-width="1.15"/>
<path d="M119.5 433.1 L121.5 432.1 L123.5 431.1 L125.5 430.2 L127.5 429.2 L129.5 428.3 L131.5 427.4 L133.5 426.5 L135.5 425.7 L137.5 424.8 L139.5 424.0 L141.5 423.2 L143.5 422.4 L145.5 421.6 L147.5 420.8 L149.5 420.0 L151.5 419.3 L153.5 418.5 L155.5 417.8 L157.5 417.0 L159.5 416.3 L161.5 415.6 L163.5 414.8 L165.5 414.1 L167.5 413.4 L169.5 412.7 L171.5 411.9 L173.5 411.2 L175.5 410.5 L177.5 409.7 L179.5 409.0 L181.5 408.3 L183.5 407.5 L185.5 406.8 L187.5 406.0 L189.5 405.2 L191.5 404.5 L193.5 403.7 L195.5 402.9 L197.5 402.1 L199.5 401.2 L201.5 400.4 L203.5 399.5 L205.5 398.7 L207.5 397.8 L209.5 396.9 L211.5 395.9 L213.5 395.0 L215.5 394.0 L217.5 393.0 L219.5 392.0 L221.5 390.9 L223.5 389.9 L225.5 388.8 L227.5 387.7 L229.5 386.6 L231.5 385.4 L233.5 384.3 L235.5 383.1 L237.5 381.9 L239.5 380.7 L241.5 379.5 L243.5 378.3 L245.5 377.1 L247.5 375.9 L249.5 374.6 L251.5 373.4 L253.5 372.1 L255.5 370.9 L257.5 369.7 L259.5 368.4 L261.5 367.2 L263.5 365.9 L265.5 364.7 L267.5 363.5 L269.5 362.3 L271.5 361.1 L273.5 359.9 L275.5 358.7 L277.5 357.5 L279.5 356.4 L281.5 355.2 L283.5 354.1 L285.5 353.0 L287.5 351.9 L289.5 350.8 L291.5 349.8 L293.5 348.8 L295.5 347.7 L297.5 346.7 L299.5 345.7 L301.5 344.7 L303.5 343.8 L305.5 342.8 L307.5 341.8 L309.5 340.9 L311.5 339.9 L313.5 339.0 L315.5 338.0 L317.5 337.1 L319.5 336.1 L321.5 335.2 L323.5 334.2 L325.5 333.3 L327.5 332.3 L329.5 331.4 L331.5 330.4 L333.5 329.5 L335.5 328.6 L337.5 327.7 L339.5 326.8 L341.5 325.9 L343.5 325.0 L345.5 324.1 L347.5 323.3 L349.5 322.4 L351.5 321.6 L353.5 320.8 L355.5 320.0 L357.5 319.3 L359.5 318.5 L361.5 317.8 L363.5 317.1 L365.5 316.4 L367.5 315.7 L369.5 315.1 L371.5 314.5 L373.5 313.9 L375.5 313.4 L377.5 312.9 L379.5 312.4 L381.5 311.9 L383.5 311.5 L385.5 311.1 L387.5 310.8 L389.5 310.4 L391.5 310.1 L393.5 309.9 L395.5 309.6 L397.5 309.4 L399.5 309.3 L401.5 309.1 L403.5 309.0 L405.5 308.9 L407.5 308.8 L409.5 308.7 L411.5 308.7 L413.5 308.6 L415.5 308.6 L417.5 308.6 L419.5 308.6 L421.5 308.6 L423.5 308.7 L425.5 308.7 L427.5 308.8 L429.5 308.8 L431.5 308.9 L433.5 309.0 L435.5 309.0 L437.5 309.1 L439.5 309.2 L441.5 309.2 L443.5 309.3 L445.5 309.4 L447.5 309.4 L449.5 309.5 L451.5 309.5 L453.5 309.6 L455.5 309.6 L457.5 309.6 L459.5 309.6 L461.5 309.6 L463.5 309.5 L465.5 309.4 L467.5 309.2 L469.5 309.1 L471.5 308.8 L473.5 308.6 L475.5 308.3 L477.5 307.9 L479.5 307.6 L481.5 307.2 L483.5 306.7 L485.5 306.3 L487.5 305.8 L489.5 305.3 L491.5 304.7 L493.5 304.2 L495.5 303.6 L497.5 303.0 L499.5 302.4 L501.5 301.7 L503.5 301.1 L505.5 300.4 L507.5 299.7 L509.5 299.0 L511.5 298.3 L513.5 297.6 L515.5 296.9 L517.5 296.2 L519.5 295.4 L521.5 294.7 L523.5 294.0 L525.5 293.3 L527.5 292.6 L529.5 291.8 L531.5 291.1 L533.5 290.4 L535.5 289.7 L537.5 289.1 L539.5 288.4 L541.5 287.7 L543.5 287.1 L545.5 286.5 L547.5 285.9 L549.5 285.3 L551.5 284.7 L553.5 284.2 L555.5 283.7 L557.5 283.2 L559.5 282.7 L561.5 282.2 L563.5 281.8 L565.5 281.3 L567.5 280.9 L569.5 280.5 L571.5 280.2 L573.5 279.8 L575.5 279.5 L577.5 279.1 L579.5 278.8 L581.5 278.5 L583.5 278.2 L585.5 277.9 L587.5 277.6 L589.5 277.4 L591.5 277.1 L593.5 276.9 L595.5 276.7 L597.5 276.4 L599.5 276.2 L601.5 276.0 L603.5 275.8 L605.5 275.6 L607.5 275.4 L609.5 275.2 L611.5 275.1 L613.5 274.9 L615.6 274.7" fill="none" stroke="#ff0000" stroke-width="1.15"/>
<path d="M119.5 361.3 L121.5 361.2 L123.5 361.1 L125.5 361.0 L127.5 360.9 L129.5 360.8 L131.5 360.8 L133.5 360.8 L135.5 360.8 L137.5 360.8 L139.5 360.8 L141.5 360.9 L143.5 360.9 L145.5 361.0 L147.5 361.1 L149.5 361.2 L151.5 361.3 L153.5 361.5 L155.5 361.6 L157.5 361.8 L159.5 361.9 L161.5 362.1 L163.5 362.3 L165.5 362.5 L167.5 362.7 L169.5 363.0 L171.5 363.2 L173.5 363.4 L175.5 363.7 L177.5 363.9 L179.5 364.2 L181.5 364.4 L183.5 364.7 L185.5 365.0 L187.5 365.3 L189.5 365.5 L191.5 365.8 L193.5 366.1 L195.5 366.4 L197.5 366.7 L199.5 367.0 L201.5 367.3 L203.5 367.6 L205.5 367.9 L207.5 368.2 L209.5 368.5 L211.5 368.7 L213.5 369.0 L215.5 369.3 L217.5 369.6 L219.5 369.9 L221.5 370.1 L223.5 370.4 L225.5 370.7 L227.5 370.9 L229.5 371.2 L231.5 371.4 L233.5 371.7 L235.5 371.9 L237.5 372.1 L239.5 372.3 L241.5 372.5 L243.5 372.7 L245.5 372.9 L247.5 373.1 L249.5 373.2 L251.5 373.4 L253.5 373.5 L255.5 373.7 L257.5 373.8 L259.5 373.9 L261.5 374.1 L263.5 374.2 L265.5 374.3 L267.5 374.4 L269.5 374.6 L271.5 374.7 L273.5 374.8 L275.5 374.9 L277.5 375.1 L279.5 375.2 L281.5 375.4 L283.5 375.5 L285.5 375.7 L287.5 375.9 L289.5 376.0 L291.5 376.2 L293.5 376.5 L295.5 376.7 L297.5 376.9 L299.5 377.2 L301.5 377.4 L303.5 377.7 L305.5 378.0 L307.5 378.3 L309.5 378.7 L311.5 379.0 L313.5 379.4 L315.5 379.8 L317.5 380.2 L319.5 380.6 L321.5 381.0 L323.5 381.3 L325.5 381.7 L327.5 382.0 L329.5 382.3 L331.5 382.6 L333.5 382.9 L335.5 383.2 L337.5 383.4 L339.5 383.7 L341.5 383.9 L343.5 384.0 L345.5 384.2 L347.5 384.3 L349.5 384.4 L351.5 384.4 L353.5 384.4 L355.5 384.4 L357.5 384.4 L359.5 384.3 L361.5 384.2 L363.5 384.1 L365.5 383.9 L367.5 383.8 L369.5 383.6 L371.5 383.4 L373.5 383.2 L375.5 383.0 L377.5 382.7 L379.5 382.5 L381.5 382.3 L383.5 382.0 L385.5 381.8 L387.5 381.6 L389.5 381.4 L391.5 381.2 L393.5 381.0 L395.5 380.8 L397.5 380.6 L399.5 380.4 L401.5 380.2 L403.5 380.0 L405.5 379.8 L407.5 379.6 L409.5 379.4 L411.5 379.2 L413.5 379.0 L415.5 378.7 L417.5 378.5 L419.5 378.2 L421.5 377.9 L423.5 377.5 L425.5 377.2 L427.5 376.8 L429.5 376.4 L431.5 376.0 L433.5 375.5 L435.5 375.0 L437.5 374.4 L439.5 373.8 L441.5 373.2 L443.5 372.5 L445.5 371.8 L447.5 371.1 L449.5 370.3 L451.5 369.5 L453.5 368.6 L455.5 367.7 L457.5 366.8 L459.5 365.8 L461.5 364.8 L463.5 363.8 L465.5 362.7 L467.5 361.5 L469.5 360.4 L471.5 359.1 L473.5 357.9 L475.5 356.6 L477.5 355.2 L479.5 353.8 L481.5 352.4 L483.5 350.9 L485.5 349.4 L487.5 347.8 L489.5 346.3 L491.5 344.7 L493.5 343.3 L495.5 341.8 L497.5 340.4 L499.5 339.0 L501.5 337.6 L503.5 336.2 L505.5 334.7 L507.5 333.1 L509.5 331.4 L511.5 329.6 L513.5 327.8 L515.5 326.1 L517.5 324.4 L519.5 322.8 L521.5 321.3 L523.5 319.9 L525.5 318.5 L527.5 317.2 L529.5 315.9 L531.5 314.6 L533.5 313.4 L535.5 312.1 L537.5 310.8 L539.5 309.5 L541.5 308.2 L543.5 306.8 L545.5 305.5 L547.5 304.1 L549.5 302.7 L551.5 301.4 L553.5 300.0 L555.5 298.7 L557.5 297.4 L559.5 296.2 L561.5 295.1 L563.5 294.0 L565.5 293.0 L567.5 292.1 L569.5 291.2 L571.5 290.5 L573.5 289.7 L575.5 289.1 L577.5 288.4 L579.5 287.7 L581.5 287.0 L583.5 286.3 L585.5 285.6 L587.5 284.8 L589.5 283.9 L591.5 282.9 L593.5 281.9 L595.5 280.8 L597.5 279.6 L599.5 278.5 L601.5 277.5 L603.5 276.5 L605.5 275.7 L607.5 275.0 L609.5 274.6 L611.5 274.3 L613.5 274.3 L615.6 274.7" fill="none" stroke="#000000" stroke-width="1.15" stroke-dasharray="2.2 3.8"/>
<path d="M119.5 491.1 L121.5 490.1 L123.5 489.1 L125.5 488.1 L127.5 487.1 L129.5 486.1 L131.5 485.2 L133.5 484.2 L135.5 483.2 L137.5 482.3 L139.5 481.3 L141.5 480.4 L143.5 479.5 L145.5 478.6 L147.5 477.6 L149.5 476.7 L151.5 475.8 L153.5 474.9 L155.5 474.0 L157.5 473.1 L159.5 472.2 L161.5 471.2 L163.5 470.3 L165.5 469.4 L167.5 468.5 L169.5 467.6 L171.5 466.7 L173.5 465.7 L175.5 464.8 L177.5 463.9 L179.5 463.0 L181.5 462.0 L183.5 461.1 L185.5 460.1 L187.5 459.1 L189.5 458.2 L191.5 457.2 L193.5 456.2 L195.5 455.2 L197.5 454.1 L199.5 453.1 L201.5 452.0 L203.5 450.8 L205.5 449.7 L207.5 448.5 L209.5 447.2 L211.5 446.0 L213.5 444.6 L215.5 443.2 L217.5 441.8 L219.5 440.3 L221.5 438.8 L223.5 437.2 L225.5 435.6 L227.5 433.9 L229.5 432.2 L231.5 430.4 L233.5 428.7 L235.5 426.9 L237.5 425.1 L239.5 423.3 L241.5 421.5 L243.5 419.6 L245.5 417.8 L247.5 416.0 L249.5 414.3 L251.5 412.5 L253.5 410.7 L255.5 409.0 L257.5 407.2 L259.5 405.5 L261.5 403.8 L263.5 402.1 L265.5 400.4 L267.5 398.8 L269.5 397.1 L271.5 395.5 L273.5 393.9 L275.5 392.3 L277.5 390.7 L279.5 389.2 L281.5 387.7 L283.5 386.2 L285.5 384.7 L287.5 383.2 L289.5 381.8 L291.5 380.4 L293.5 379.1 L295.5 377.8 L297.5 376.6 L299.5 375.4 L301.5 374.2 L303.5 373.1 L305.5 372.0 L307.5 371.0 L309.5 370.0 L311.5 368.9 L313.5 367.9 L315.5 367.0 L317.5 366.0 L319.5 365.0 L321.5 364.0 L323.5 363.0 L325.5 362.0 L327.5 361.0 L329.5 360.0 L331.5 358.9 L333.5 357.8 L335.5 356.7 L337.5 355.5 L339.5 354.3 L341.5 353.1 L343.5 351.8 L345.5 350.4 L347.5 349.1 L349.5 347.7 L351.5 346.3 L353.5 345.0 L355.5 343.6 L357.5 342.3 L359.5 341.1 L361.5 339.9 L363.5 338.8 L365.5 337.8 L367.5 336.8 L369.5 335.8 L371.5 334.9 L373.5 334.1 L375.5 333.3 L377.5 332.6 L379.5 331.9 L381.5 331.2 L383.5 330.6 L385.5 330.0 L387.5 329.5 L389.5 329.0 L391.5 328.5 L393.5 328.1 L395.5 327.6 L397.5 327.3 L399.5 326.9 L401.5 326.6 L403.5 326.2 L405.5 325.9 L407.5 325.7 L409.5 325.4 L411.5 325.2 L413.5 324.9 L415.5 324.7 L417.5 324.5 L419.5 324.2 L421.5 324.0 L423.5 323.8 L425.5 323.6 L427.5 323.4 L429.5 323.2 L431.5 323.0 L433.5 322.8 L435.5 322.5 L437.5 322.3 L439.5 322.1 L441.5 321.9 L443.5 321.6 L445.5 321.4 L447.5 321.2 L449.5 320.9 L451.5 320.6 L453.5 320.4 L455.5 320.1 L457.5 319.8 L459.5 319.4 L461.5 319.1 L463.5 318.8 L465.5 318.4 L467.5 318.0 L469.5 317.6 L471.5 317.2 L473.5 316.7 L475.5 316.3 L477.5 315.8 L479.5 315.3 L481.5 314.7 L483.5 314.2 L485.5 313.6 L487.5 312.9 L489.5 312.3 L491.5 311.6 L493.5 310.9 L495.5 310.2 L497.5 309.4 L499.5 308.6 L501.5 307.8 L503.5 307.0 L505.5 306.1 L507.5 305.3 L509.5 304.4 L511.5 303.5 L513.5 302.7 L515.5 301.8 L517.5 300.9 L519.5 300.1 L521.5 299.2 L523.5 298.4 L525.5 297.6 L527.5 296.7 L529.5 295.9 L531.5 295.1 L533.5 294.3 L535.5 293.5 L537.5 292.7 L539.5 291.9 L541.5 291.1 L543.5 290.3 L545.5 289.6 L547.5 288.8 L549.5 288.1 L551.5 287.4 L553.5 286.7 L555.5 286.0 L557.5 285.4 L559.5 284.8 L561.5 284.3 L563.5 283.8 L565.5 283.3 L567.5 282.8 L569.5 282.4 L571.5 281.9 L573.5 281.5 L575.5 281.1 L577.5 280.7 L579.5 280.3 L581.5 279.9 L583.5 279.5 L585.5 279.2 L587.5 278.8 L589.5 278.5 L591.5 278.1 L593.5 277.8 L595.5 277.5 L597.5 277.2 L599.5 276.9 L601.5 276.6 L603.5 276.3 L605.5 276.0 L607.5 275.8 L609.5 275.5 L611.5 275.2 L613.5 275.0 L615.6 274.7" fill="none" stroke="#ff0000" stroke-width="1.15" stroke-dasharray="2.2 3.8"/>
<path d="M119.5 356.4 L121.5 356.7 L123.5 357.0 L125.5 357.3 L127.5 357.6 L129.5 357.9 L131.5 358.2 L133.5 358.5 L135.5 358.8 L137.5 359.1 L139.5 359.3 L141.5 359.6 L143.5 359.9 L145.5 360.2 L147.5 360.5 L149.5 360.8 L151.5 361.1 L153.5 361.3 L155.5 361.6 L157.5 361.9 L159.5 362.2 L161.5 362.5 L163.5 362.8 L165.5 363.0 L167.5 363.3 L169.5 363.6 L171.5 363.9 L173.5 364.1 L175.5 364.4 L177.5 364.7 L179.5 365.0 L181.5 365.2 L183.5 365.5 L185.5 365.8 L187.5 366.0 L189.5 366.3 L191.5 366.6 L193.5 366.8 L195.5 367.1 L197.5 367.3 L199.5 367.5 L201.5 367.7 L203.5 367.8 L205.5 367.9 L207.5 368.0 L209.5 368.1 L211.5 368.1 L213.5 368.1 L215.5 368.0 L217.5 367.9 L219.5 367.8 L221.5 367.6 L223.5 367.4 L225.5 367.1 L227.5 366.8 L229.5 366.5 L231.5 366.2 L233.5 365.9 L235.5 365.5 L237.5 365.1 L239.5 364.6 L241.5 364.2 L243.5 363.7 L245.5 363.2 L247.5 362.7 L249.5 362.2 L251.5 361.7 L253.5 361.2 L255.5 360.6 L257.5 360.1 L259.5 359.5 L261.5 358.9 L263.5 358.4 L265.5 357.8 L267.5 357.2 L269.5 356.6 L271.5 356.1 L273.5 355.5 L275.5 354.9 L277.5 354.4 L279.5 353.8 L281.5 353.3 L283.5 352.8 L285.5 352.3 L287.5 351.8 L289.5 351.3 L291.5 350.8 L293.5 350.4 L295.5 349.9 L297.5 349.5 L299.5 349.1 L301.5 348.7 L303.5 348.3 L305.5 348.0 L307.5 347.6 L309.5 347.3 L311.5 347.0 L313.5 346.7 L315.5 346.4 L317.5 346.2 L319.5 345.9 L321.5 345.7 L323.5 345.5 L325.5 345.3 L327.5 345.1 L329.5 344.9 L331.5 344.7 L333.5 344.5 L335.5 344.4 L337.5 344.2 L339.5 344.0 L341.5 343.8 L343.5 343.5 L345.5 343.3 L347.5 343.0 L349.5 342.7 L351.5 342.4 L353.5 342.1 L355.5 341.7 L357.5 341.4 L359.5 340.9 L361.5 340.5 L363.5 340.1 L365.5 339.6 L367.5 339.1 L369.5 338.6 L371.5 338.0 L373.5 337.5 L375.5 336.9 L377.5 336.3 L379.5 335.7 L381.5 335.1 L383.5 334.5 L385.5 333.8 L387.5 333.1 L389.5 332.4 L391.5 331.7 L393.5 331.0 L395.5 330.2 L397.5 329.4 L399.5 328.6 L401.5 327.8 L403.5 327.0 L405.5 326.1 L407.5 325.2 L409.5 324.3 L411.5 323.3 L413.5 322.4 L415.5 321.4 L417.5 320.3 L419.5 319.3 L421.5 318.2 L423.5 317.2 L425.5 316.1 L427.5 315.0 L429.5 313.8 L431.5 312.7 L433.5 311.6 L435.5 310.5 L437.5 309.4 L439.5 308.3 L441.5 307.2 L443.5 306.1 L445.5 305.1 L447.5 304.0 L449.5 303.0 L451.5 302.1 L453.5 301.1 L455.5 300.2 L457.5 299.3 L459.5 298.5 L461.5 297.7 L463.5 296.9 L465.5 296.1 L467.5 295.4 L469.5 294.7 L471.5 294.0 L473.5 293.3 L475.5 292.7 L477.5 292.1 L479.5 291.6 L481.5 291.0 L483.5 290.5 L485.5 290.0 L487.5 289.6 L489.5 289.2 L491.5 288.8 L493.5 288.4 L495.5 288.0 L497.5 287.7 L499.5 287.4 L501.5 287.1 L503.5 286.9 L505.5 286.6 L507.5 286.3 L509.5 286.0 L511.5 285.8 L513.5 285.5 L515.5 285.2 L517.5 284.9 L519.5 284.5 L521.5 284.2 L523.5 283.8 L525.5 283.4 L527.5 283.0 L529.5 282.6 L531.5 282.2 L533.5 281.8 L535.5 281.4 L537.5 281.0 L539.5 280.7 L541.5 280.3 L543.5 279.9 L545.5 279.5 L547.5 279.2 L549.5 278.8 L551.5 278.5 L553.5 278.2 L555.5 277.9 L557.5 277.7 L559.5 277.4 L561.5 277.2 L563.5 276.9 L565.5 276.7 L567.5 276.5 L569.5 276.3 L571.5 276.1 L573.5 276.0 L575.5 275.8 L577.5 275.7 L579.5 275.6 L581.5 275.4 L583.5 275.3 L585.5 275.2 L587.5 275.1 L589.5 275.1 L591.5 275.0 L593.5 274.9 L595.5 274.9 L597.5 274.8 L599.5 274.8 L601.5 274.8 L603.5 274.7 L605.5 274.7 L607.5 274.7 L609.5 274.7 L611.5 274.7 L613.5 274.7 L615.6 274.7" fill="none" stroke="#00ff00" stroke-width="1.15" stroke-dasharray="2.2 3.8"/>
<path d="M119.5 246.1 L121.5 246.9 L123.5 247.6 L125.5 248.2 L127.5 248.9 L129.5 249.5 L131.5 250.0 L133.5 250.6 L135.5 251.1 L137.5 251.5 L139.5 251.9 L141.5 252.3 L143.5 252.7 L145.5 253.0 L147.5 253.3 L149.5 253.6 L151.5 253.8 L153.5 254.1 L155.5 254.3 L157.5 254.4 L159.5 254.6 L161.5 254.7 L163.5 254.8 L165.5 254.9 L167.5 255.0 L169.5 255.1 L171.5 255.1 L173.5 255.1 L175.5 255.1 L177.5 255.1 L179.5 255.1 L181.5 255.1 L183.5 255.1 L185.5 255.0 L187.5 255.0 L189.5 254.9 L191.5 254.9 L193.5 254.8 L195.5 254.7 L197.5 254.6 L199.5 254.6 L201.5 254.5 L203.5 254.4 L205.5 254.3 L207.5 254.2 L209.5 254.1 L211.5 254.0 L213.5 253.9 L215.5 253.8 L217.5 253.7 L219.5 253.6 L221.5 253.5 L223.5 253.4 L225.5 253.3 L227.5 253.2 L229.5 253.1 L231.5 253.0 L233.5 252.9 L235.5 252.8 L237.5 252.7 L239.5 252.6 L241.5 252.6 L243.5 252.5 L245.5 252.4 L247.5 252.4 L249.5 252.3 L251.5 252.3 L253.5 252.2 L255.5 252.2 L257.5 252.2 L259.5 252.2 L261.5 252.2 L263.5 252.2 L265.5 252.2 L267.5 252.3 L269.5 252.3 L271.5 252.4 L273.5 252.5 L275.5 252.5 L277.5 252.6 L279.5 252.7 L281.5 252.8 L283.5 252.9 L285.5 253.0 L287.5 253.2 L289.5 253.3 L291.5 253.4 L293.5 253.6 L295.5 253.7 L297.5 253.9 L299.5 254.0 L301.5 254.2 L303.5 254.3 L305.5 254.5 L307.5 254.6 L309.5 254.8 L311.5 254.9 L313.5 255.1 L315.5 255.3 L317.5 255.4 L319.5 255.6 L321.5 255.7 L323.5 255.9 L325.5 256.0 L327.5 256.2 L329.5 256.3 L331.5 256.4 L333.5 256.6 L335.5 256.7 L337.5 256.8 L339.5 256.9 L341.5 257.0 L343.5 257.1 L345.5 257.2 L347.5 257.3 L349.5 257.4 L351.5 257.4 L353.5 257.5 L355.5 257.5 L357.5 257.5 L359.5 257.6 L361.5 257.6 L363.5 257.6 L365.5 257.6 L367.5 257.6 L369.5 257.5 L371.5 257.5 L373.5 257.5 L375.5 257.4 L377.5 257.4 L379.5 257.4 L381.5 257.3 L383.5 257.2 L385.5 257.2 L387.5 257.1 L389.5 257.0 L391.5 257.0 L393.5 256.9 L395.5 256.8 L397.5 256.7 L399.5 256.7 L401.5 256.6 L403.5 256.5 L405.5 256.4 L407.5 256.3 L409.5 256.2 L411.5 256.2 L413.5 256.1 L415.5 256.0 L417.5 255.9 L419.5 255.9 L421.5 255.8 L423.5 255.7 L425.5 255.7 L427.5 255.6 L429.5 255.5 L431.5 255.5 L433.5 255.4 L435.5 255.4 L437.5 255.3 L439.5 255.3 L441.5 255.3 L443.5 255.2 L445.5 255.2 L447.5 255.2 L449.5 255.2 L451.5 255.2 L453.5 255.2 L455.5 255.2 L457.5 255.2 L459.5 255.3 L461.5 255.3 L463.5 255.3 L465.5 255.4 L467.5 255.4 L469.5 255.5 L471.5 255.6 L473.5 255.7 L475.5 255.8 L477.5 255.9 L479.5 256.0 L481.5 256.1 L483.5 256.2 L485.5 256.4 L487.5 256.5 L489.5 256.7 L491.5 256.8 L493.5 257.0 L495.5 257.2 L497.5 257.4 L499.5 257.7 L501.5 257.9 L503.5 258.1 L505.5 258.4 L507.5 258.7 L509.5 258.9 L511.5 259.2 L513.5 259.6 L515.5 259.9 L517.5 260.2 L519.5 260.5 L521.5 260.9 L523.5 261.2 L525.5 261.6 L527.5 261.9 L529.5 262.3 L531.5 262.7 L533.5 263.1 L535.5 263.5 L537.5 263.9 L539.5 264.3 L541.5 264.6 L543.5 265.0 L545.5 265.4 L547.5 265.8 L549.5 266.2 L551.5 266.6 L553.5 267.0 L555.5 267.4 L557.5 267.8 L559.5 268.2 L561.5 268.6 L563.5 269.0 L565.5 269.3 L567.5 269.7 L569.5 270.1 L571.5 270.4 L573.5 270.7 L575.5 271.1 L577.5 271.4 L579.5 271.7 L581.5 272.0 L583.5 272.3 L585.5 272.6 L587.5 272.8 L589.5 273.1 L591.5 273.3 L593.5 273.5 L595.5 273.7 L597.5 273.9 L599.5 274.1 L601.5 274.2 L603.5 274.4 L605.5 274.5 L607.5 274.6 L609.5 274.6 L611.5 274.7 L613.5 274.7 L615.6 274.7" fill="none" stroke="#0000ff" stroke-width="1.15" stroke-dasharray="2.2 3.8"/>
<path d="M119.5 136.0 L121.5 135.8 L123.5 135.4 L125.5 135.1 L127.5 134.6 L129.5 134.1 L131.5 133.5 L133.5 132.9 L135.5 132.2 L137.5 131.5 L139.5 130.7 L141.5 129.9 L143.5 129.0 L145.5 128.1 L147.5 127.2 L149.5 126.2 L151.5 125.2 L153.5 124.1 L155.5 123.1 L157.5 122.0 L159.5 120.9 L161.5 119.8 L163.5 118.6 L165.5 117.5 L167.5 116.4 L169.5 115.2 L171.5 114.1 L173.5 112.9 L175.5 111.8 L177.5 110.6 L179.5 109.5 L181.5 108.4 L183.5 107.3 L185.5 106.3 L187.5 105.2 L189.5 104.2 L191.5 103.2 L193.5 102.2 L195.5 101.3 L197.5 100.4 L199.5 99.6 L201.5 98.8 L203.5 98.0 L205.5 97.3 L207.5 96.7 L209.5 96.1 L211.5 95.5 L213.5 95.1 L215.5 94.6 L217.5 94.2 L219.5 93.9 L221.5 93.6 L223.5 93.4 L225.5 93.2 L227.5 93.1 L229.5 93.0 L231.5 93.0 L233.5 93.0 L235.5 93.0 L237.5 93.1 L239.5 93.3 L241.5 93.5 L243.5 93.7 L245.5 94.0 L247.5 94.3 L249.5 94.7 L251.5 95.1 L253.5 95.6 L255.5 96.1 L257.5 96.6 L259.5 97.1 L261.5 97.7 L263.5 98.3 L265.5 98.9 L267.5 99.5 L269.5 100.2 L271.5 100.8 L273.5 101.5 L275.5 102.1 L277.5 102.8 L279.5 103.4 L281.5 104.0 L283.5 104.6 L285.5 105.1 L287.5 105.7 L289.5 106.2 L291.5 106.7 L293.5 107.2 L295.5 107.6 L297.5 108.1 L299.5 108.5 L301.5 108.9 L303.5 109.3 L305.5 109.7 L307.5 110.0 L309.5 110.4 L311.5 110.7 L313.5 111.0 L315.5 111.4 L317.5 111.7 L319.5 112.0 L321.5 112.3 L323.5 112.6 L325.5 112.9 L327.5 113.2 L329.5 113.5 L331.5 113.9 L333.5 114.2 L335.5 114.5 L337.5 114.9 L339.5 115.2 L341.5 115.6 L343.5 116.0 L345.5 116.4 L347.5 116.9 L349.5 117.3 L351.5 117.8 L353.5 118.4 L355.5 118.9 L357.5 119.5 L359.5 120.1 L361.5 120.7 L363.5 121.4 L365.5 122.1 L367.5 122.9 L369.5 123.7 L371.5 124.5 L373.5 125.4 L375.5 126.3 L377.5 127.3 L379.5 128.3 L381.5 129.3 L383.5 130.4 L385.5 131.6 L387.5 132.7 L389.5 133.9 L391.5 135.2 L393.5 136.5 L395.5 137.8 L397.5 139.1 L399.5 140.5 L401.5 142.0 L403.5 143.4 L405.5 144.9 L407.5 146.5 L409.5 148.0 L411.5 149.6 L413.5 151.3 L415.5 152.9 L417.5 154.6 L419.5 156.4 L421.5 158.1 L423.5 159.9 L425.5 161.7 L427.5 163.6 L429.5 165.4 L431.5 167.3 L433.5 169.2 L435.5 171.2 L437.5 173.1 L439.5 175.1 L441.5 177.1 L443.5 179.1 L445.5 181.1 L447.5 183.2 L449.5 185.3 L451.5 187.3 L453.5 189.4 L455.5 191.5 L457.5 193.6 L459.5 195.7 L461.5 197.8 L463.5 200.0 L465.5 202.1 L467.5 204.3 L469.5 206.4 L471.5 208.5 L473.5 210.7 L475.5 212.8 L477.5 215.0 L479.5 217.1 L481.5 219.2 L483.5 221.4 L485.5 223.5 L487.5 225.6 L489.5 227.7 L491.5 229.8 L493.5 231.8 L495.5 233.9 L497.5 235.9 L499.5 237.8 L501.5 239.8 L503.5 241.6 L505.5 243.5 L507.5 245.2 L509.5 247.0 L511.5 248.6 L513.5 250.2 L515.5 251.8 L517.5 253.2 L519.5 254.6 L521.5 255.9 L523.5 257.1 L525.5 258.3 L527.5 259.4 L529.5 260.5 L531.5 261.5 L533.5 262.4 L535.5 263.3 L537.5 264.1 L539.5 264.8 L541.5 265.5 L543.5 266.2 L545.5 266.8 L547.5 267.4 L549.5 267.9 L551.5 268.4 L553.5 268.8 L555.5 269.3 L557.5 269.6 L559.5 270.0 L561.5 270.3 L563.5 270.6 L565.5 270.8 L567.5 271.1 L569.5 271.3 L571.5 271.5 L573.5 271.7 L575.5 271.8 L577.5 272.0 L579.5 272.1 L581.5 272.2 L583.5 272.3 L585.5 272.4 L587.5 272.5 L589.5 272.6 L591.5 272.7 L593.5 272.8 L595.5 272.9 L597.5 273.0 L599.5 273.2 L601.5 273.3 L603.5 273.4 L605.5 273.6 L607.5 273.8 L609.5 274.0 L611.5 274.2 L613.5 274.4 L615.6 274.7" fill="none" stroke="#00ffff" stroke-width="1.15" stroke-dasharray="2.2 3.8"/>
</svg>
</body></html>
